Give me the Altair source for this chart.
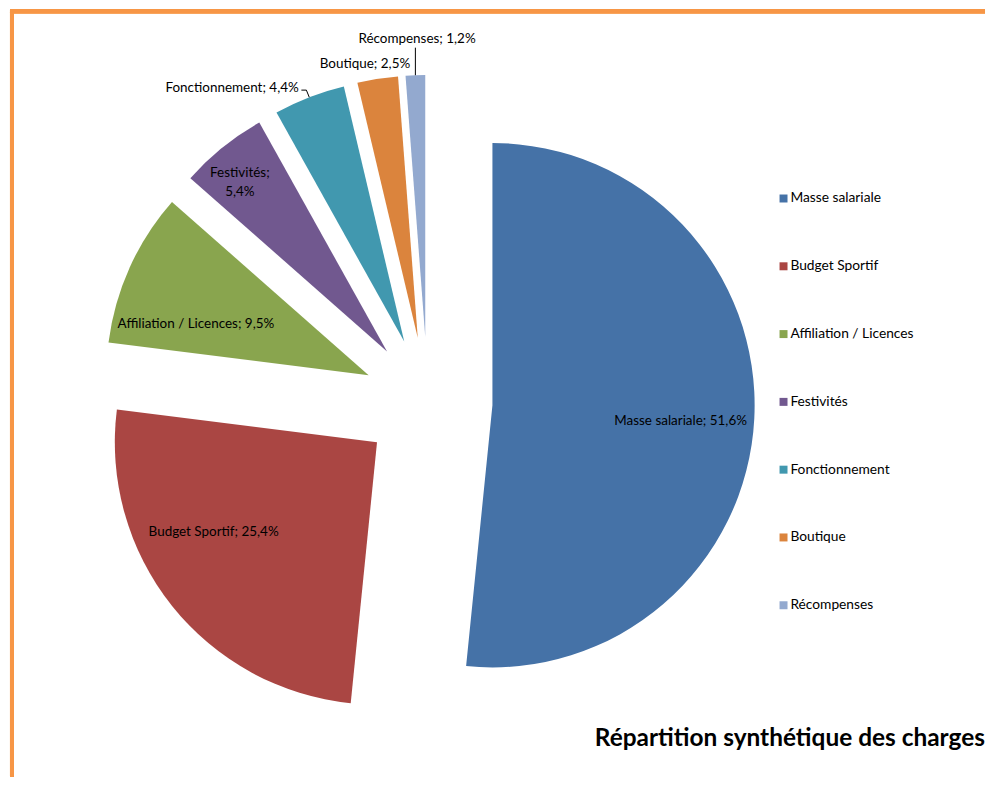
import math
import altair as alt
import pandas as pd

# ---- data ----
categories = ["Masse salariale", "Budget Sportif", "Affiliation / Licences",
              "Festivités", "Fonctionnement", "Boutique", "Récompenses"]
shares = [51.6, 25.4, 9.5, 5.4, 4.4, 2.5, 1.2]
colors = ["#4572A7", "#AA4643", "#89A54E", "#71588F", "#4198AF", "#DB843D", "#93A9CF"]
title_text = "Répartition synthétique des charges"

df = pd.DataFrame({
    "cat": categories,
    "val": shares,
    "order": list(range(len(categories))),
})
df["lab"] = [
    f"{c};{chr(10) if c == 'Festivités' else ' '}{str(v).replace('.', ',')}%"
    for c, v in zip(categories, shares)
]

# ---- geometry / style ----
W, H = 978, 770
CX, CY = 419, 394      # pie centre inside the plot area
R = 263                # pie radius (px)
EXPLODE = 65           # radial offset of every slice (px)
k = EXPLODE / R
FONT = "Lato"
FS = 13.5
BORDER = "#F79646"

xs = alt.Scale(domain=[-1, 1], range=[CX - R, CX + R], zero=False, nice=False)
ys = alt.Scale(domain=[-1, 1], range=[CY + R, CY - R], zero=False, nice=False)
ts = alt.Scale(domain=[0, 100], range=[0, 2 * math.pi])

base = alt.Chart(df).transform_window(
    cum="sum(val)", sort=[alt.SortField("order")], frame=[None, 0]
).transform_calculate(
    start="datum.cum - datum.val",
    midp="datum.cum - datum.val / 2",
    mid="(datum.cum - datum.val / 2) * 2 * PI / 100",
    ex=f"{k} * sin(datum.mid)",
    ey=f"{k} * cos(datum.mid)",
    lx="datum.ex + sin(datum.mid)",
    ly="datum.ey + cos(datum.mid)",
)

X = alt.X("ex:Q", scale=xs, axis=None)
Y = alt.Y("ey:Q", scale=ys, axis=None)

arcs = base.mark_arc(radius=R).encode(
    theta=alt.Theta("start:Q", scale=ts, stack=None),
    theta2="cum:Q",
    x=X,
    y=Y,
    color=alt.Color(
        "cat:N",
        scale=alt.Scale(domain=categories, range=colors),
        sort=categories,
        legend=alt.Legend(
            title=None, orient="none", legendX=769, legendY=183,
            symbolType="square", symbolSize=64, symbolStrokeWidth=0,
            labelFont=FONT, labelFontSize=13.8, labelColor="#000000",
            labelOffset=0, rowPadding=53, padding=0,
        ),
    ),
)

# per-label placement: (radius px, dx, dy, align)
label_pos = {
    "Masse salariale": (189, 0, 6, "center"),
    "Budget Sportif": (189, -16, -28, "center"),
    "Affiliation / Licences": (189, -1, 26, "center"),
    "Festivités": (189, -29, -32, "center"),
    "Fonctionnement": (270, -8, -3, "right"),
    "Boutique": (280, -10, 2, "center"),
    "Récompenses": (299, 3, 0, "center"),
}

label_layers = []
for cat, (rad, dx, dy, al) in label_pos.items():
    label_layers.append(
        base.transform_filter(alt.datum.cat == cat).mark_text(
            font=FONT, fontSize=FS, color="#000000", align=al,
            baseline="middle", dx=dx, dy=dy, lineHeight=19, lineBreak="\n",
        ).encode(
            x=X, y=Y,
            theta=alt.Theta("midp:Q", scale=ts, stack=None),
            radius=alt.value(rad),
            text="lab:N",
        )
    )

# leader lines
lead_rec = base.transform_filter(alt.datum.cat == "Récompenses").transform_calculate(
    ly2="datum.ly + 0.105"
).mark_rule(color="#000000", strokeWidth=1).encode(
    x=alt.X("lx:Q", scale=xs, axis=None), y=alt.Y("ly:Q", scale=ys, axis=None),
    x2="lx:Q", y2="ly2:Q",
)
lead_fon_a = base.transform_filter(alt.datum.cat == "Fonctionnement").transform_calculate(
    lx2="datum.lx - 0.011", ly2="datum.ly + 0.027"
).mark_rule(color="#000000", strokeWidth=1).encode(
    x=alt.X("lx:Q", scale=xs, axis=None), y=alt.Y("ly:Q", scale=ys, axis=None),
    x2="lx2:Q", y2="ly2:Q",
)
lead_fon_b = base.transform_filter(alt.datum.cat == "Fonctionnement").transform_calculate(
    lx1="datum.lx - 0.011", lx2="datum.lx - 0.03", ly1="datum.ly + 0.027"
).mark_rule(color="#000000", strokeWidth=1).encode(
    x=alt.X("lx1:Q", scale=xs, axis=None), y=alt.Y("ly1:Q", scale=ys, axis=None),
    x2="lx2:Q", y2="ly1:Q",
)

# decorative orange frame (top and left edges)
frame_top = alt.Chart(df).mark_rule(color=BORDER, strokeWidth=4).encode(
    x=alt.value(0), x2=alt.value(W), y=alt.value(2)
)
frame_left = alt.Chart(df).mark_rule(color=BORDER, strokeWidth=4).encode(
    x=alt.value(2), y=alt.value(2), y2=alt.value(H)
)

# chart title, drawn as text in the lower right corner
title_mark = alt.Chart(df).transform_aggregate(n="count()").transform_calculate(
    t=f"'{title_text}'"
).mark_text(
    font=FONT, fontSize=24.5, fontWeight="bold", color="#000000",
    align="right", baseline="middle",
).encode(x=alt.value(W), y=alt.value(732), text="t:N")

chart = alt.layer(
    frame_top, frame_left, arcs, lead_rec, lead_fon_a, lead_fon_b, *label_layers, title_mark
).properties(
    width=W, height=H, padding=0, background="white",
).configure_view(stroke=None)

chart.save("out.html", embed_options={"renderer": "svg", "actions": False})
